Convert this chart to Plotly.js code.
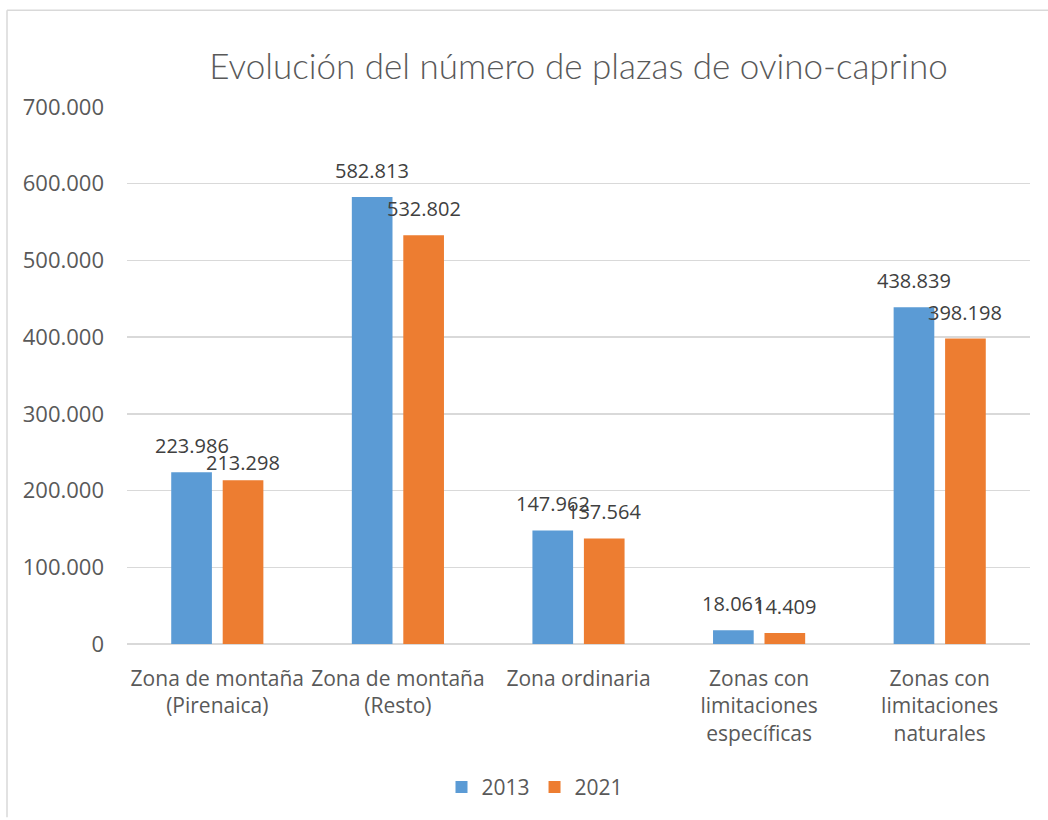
<!DOCTYPE html>
<html>
<head>
<meta charset="utf-8">
<script src="https://cdn.plot.ly/plotly-3.0.1.min.js"></script>
<style>
  html, body { margin: 0; padding: 0; background: #fff; }
  #chart { width: 1048px; height: 820px; }
</style>
</head>
<body>
<div id="chart"></div>
<script>
// Zonas y número de plazas de ovino-caprino por año
const categories = [
  "Zona de montaña<br>(Pirenaica)",
  "Zona de montaña<br>(Resto)",
  "Zona ordinaria",
  "Zonas con<br>limitaciones<br>específicas",
  "Zonas con<br>limitaciones<br>naturales"
];
const seriesNames = ["2013", "2021"];
const values2013 = [223986, 582813, 147962, 18061, 438839];
const values2021 = [213298, 532802, 137564, 14409, 398198];
const yTickVals = [0, 100000, 200000, 300000, 400000, 500000, 600000, 700000];
const yTickText = ["0", "100.000", "200.000", "300.000", "400.000", "500.000", "600.000", "700.000"];

// Formato español con punto como separador de miles
function fmt(v) {
  return String(v).replace(/\B(?=(\d{3})+(?!\d))/g, ".");
}

const FONT = "'Open Sans', 'Noto Sans', sans-serif";
const TITLE_FONT = "Lato, 'Open Sans', sans-serif";
const COLORS = ["#5B9BD5", "#ED7D31"];

const W = 1048, H = 820;
const M = { l: 127, r: 18, t: 107, b: 174 };
const BARGAP = 0.43, BARGROUPGAP = 0.21;
const LABEL_LIFT = 11;
// Etiqueta de 2021 en la primera zona, algo más baja para no pisar la de 2013
const labelNudge = { "1-0": -9 };

const seriesValues = [values2013, values2021];

const traces = seriesValues.map((vals, i) => ({
  type: "bar", name: seriesNames[i], x: categories, y: vals,
  marker: { color: COLORS[i] },
  hoverinfo: "x+y"
}));

// Etiquetas de datos sobre cada barra, desplazadas al centro de su barra
const plotW = W - M.l - M.r;
const plotH = H - M.t - M.b;
const slotPx = (plotW / categories.length) * (1 - BARGAP) / seriesValues.length;
const annotations = [];
seriesValues.forEach((vals, i) => {
  const dx = (i - (seriesValues.length - 1) / 2) * slotPx;
  vals.forEach((v, j) => {
    annotations.push({
      x: categories[j], y: v, xref: "x", yref: "y",
      text: fmt(v), showarrow: false,
      xanchor: "center", yanchor: "bottom",
      xshift: dx, yshift: LABEL_LIFT + (labelNudge[i + "-" + j] || 0),
      font: { family: FONT, size: 20, color: "#404040" }
    });
  });
});

const layout = {
  width: W, height: H,
  margin: M,
  paper_bgcolor: "#fff", plot_bgcolor: "#fff",
  font: { family: FONT, color: "#595959", size: 21 },
  title: {
    text: "Evolución del número de plazas de ovino-caprino",
    font: { family: TITLE_FONT, size: 35, color: "#595959", weight: 300 },
    x: 0.5, xref: "paper", xanchor: "center",
    y: 1 - 67 / H, yref: "container", yanchor: "middle"
  },
  barmode: "group",
  bargap: BARGAP,
  bargroupgap: BARGROUPGAP,
  xaxis: {
    type: "category",
    showgrid: false, zeroline: false,
    showline: false, ticks: "",
    tickfont: { family: FONT, size: 21, color: "#595959" },
    tickangle: 0, automargin: false,
    ticklabelstandoff: 20
  },
  yaxis: {
    range: [0, 700000],
    tickvals: yTickVals, ticktext: yTickText,
    showgrid: true, gridcolor: "#D9D9D9", gridwidth: 1.5,
    zeroline: true, zerolinecolor: "#D9D9D9", zerolinewidth: 1.5,
    showline: false, ticks: "",
    tickfont: { family: FONT, size: 22, color: "#595959" },
    ticklabelstandoff: 22, automargin: false
  },
  legend: {
    orientation: "h",
    x: (535 - M.l) / plotW, xanchor: "center",
    y: (646 - 790) / plotH, yanchor: "middle",
    font: { family: FONT, size: 21, color: "#595959" },
    itemwidth: 30, traceorder: "normal"
  },
  annotations: annotations,
  shapes: [
    // marco del gráfico (borde superior e izquierdo)
    { type: "line", xref: "paper", yref: "paper",
      x0: (7 - M.l) / plotW, x1: (W - M.l) / plotW,
      y0: (646 - 10) / plotH, y1: (646 - 10) / plotH,
      line: { color: "#D9D9D9", width: 1.5 } },
    { type: "line", xref: "paper", yref: "paper",
      x0: (7 - M.l) / plotW, x1: (7 - M.l) / plotW,
      y0: (646 - 10) / plotH, y1: (646 - H) / plotH,
      line: { color: "#D9D9D9", width: 1.5 } }
  ],
  showlegend: true
};

Plotly.newPlot("chart", traces, layout, { displayModeBar: false, staticPlot: true });
</script>
</body>
</html>
